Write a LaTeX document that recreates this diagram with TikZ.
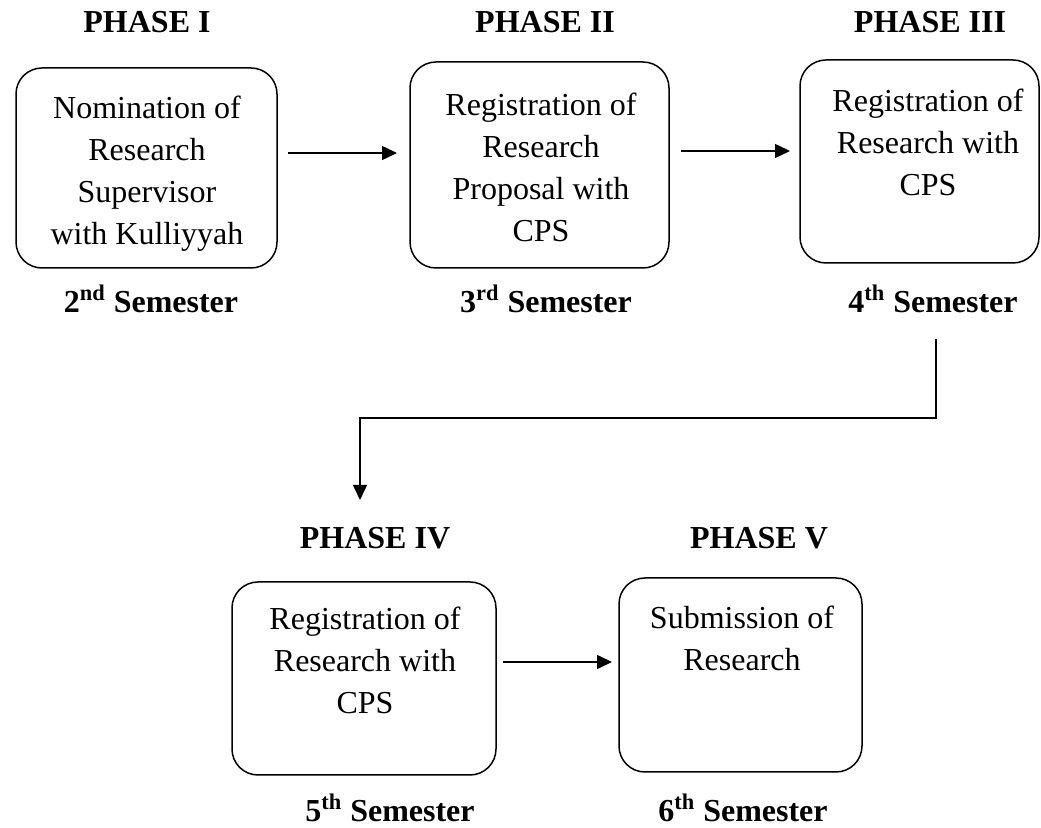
\documentclass[tikz,border=0pt]{standalone}
\usepackage{fontspec}
\setmainfont{Liberation Serif}
\usetikzlibrary{arrows.meta}
\begin{document}
\begin{tikzpicture}[x=0.5pt,y=-0.5pt,
  every node/.style={font=\fontsize{16}{21}\selectfont, inner sep=0pt},
  phasebox/.style={draw, line width=0.75pt, rounded corners=13pt},
  boxtext/.style={align=center, anchor=north},
  title/.style={font=\fontsize{16}{19}\selectfont\bfseries},
  semlabel/.style={font=\fontsize{16}{19}\selectfont\bfseries, anchor=base},
  conn/.style={line width=0.75pt, -{Triangle[length=7.5pt,width=7pt]}}]
\useasboundingbox (0,0) rectangle (1041,828);
% Phase titles
\node[title] (p1) at (147,22) {PHASE I};
\node[title] (p2) at (545,22) {PHASE II};
\node[title] (p3) at (930,22) {PHASE III};
\node[title] (p4) at (375,538) {PHASE IV};
\node[title] (p5) at (759,538) {PHASE V};
% Boxes
\draw[phasebox] (16,68) rectangle (277,268) node[pos=0.5] (b1) {};
\draw[phasebox] (410,62) rectangle (669,268) node[pos=0.5] (b2) {};
\draw[phasebox] (800,60) rectangle (1039,263) node[pos=0.5] (b3) {};
\draw[phasebox] (232,582) rectangle (496,775) node[pos=0.5] (b4) {};
\draw[phasebox] (619,578) rectangle (862,772) node[pos=0.5] (b5) {};
% Box texts
\node[boxtext] (t1) at (147,96) {Nomination of\\Research\\Supervisor\\with Kulliyyah};
\node[boxtext] (t2) at (541,93) {Registration of\\Research\\Proposal with\\CPS};
\node[boxtext] (t3) at (928,89) {Registration of\\Research with\\CPS};
\node[boxtext] (t4) at (365,607) {Registration of\\Research with\\CPS};
\node[boxtext] (t5) at (742,606) {Submission of\\Research};
% Semester labels
\node[semlabel] (s1) at (151,313) {2\textsuperscript{nd} Semester};
\node[semlabel] (s2) at (546,313) {3\textsuperscript{rd} Semester};
\node[semlabel] (s3) at (933,313) {4\textsuperscript{th} Semester};
\node[semlabel] (s4) at (390,822) {5\textsuperscript{th} Semester};
\node[semlabel] (s5) at (743,822) {6\textsuperscript{th} Semester};
% Connectors
\coordinate (a1s) at (288,153);
\coordinate (a1e) at (397,153);
\coordinate (a2s) at (681,151);
\coordinate (a2e) at (790,151);
\coordinate (a3s) at (503,662);
\coordinate (a3e) at (612,662);
\coordinate (e1) at (936,339);
\coordinate (e2) at (360,500);
\draw[conn] (a1s) -- (a1e);
\draw[conn] (a2s) -- (a2e);
\draw[conn] (a3s) -- (a3e);
\draw[conn] (e1) -- (936,418) -- (360,418) -- (e2);
\end{tikzpicture}
\end{document}
